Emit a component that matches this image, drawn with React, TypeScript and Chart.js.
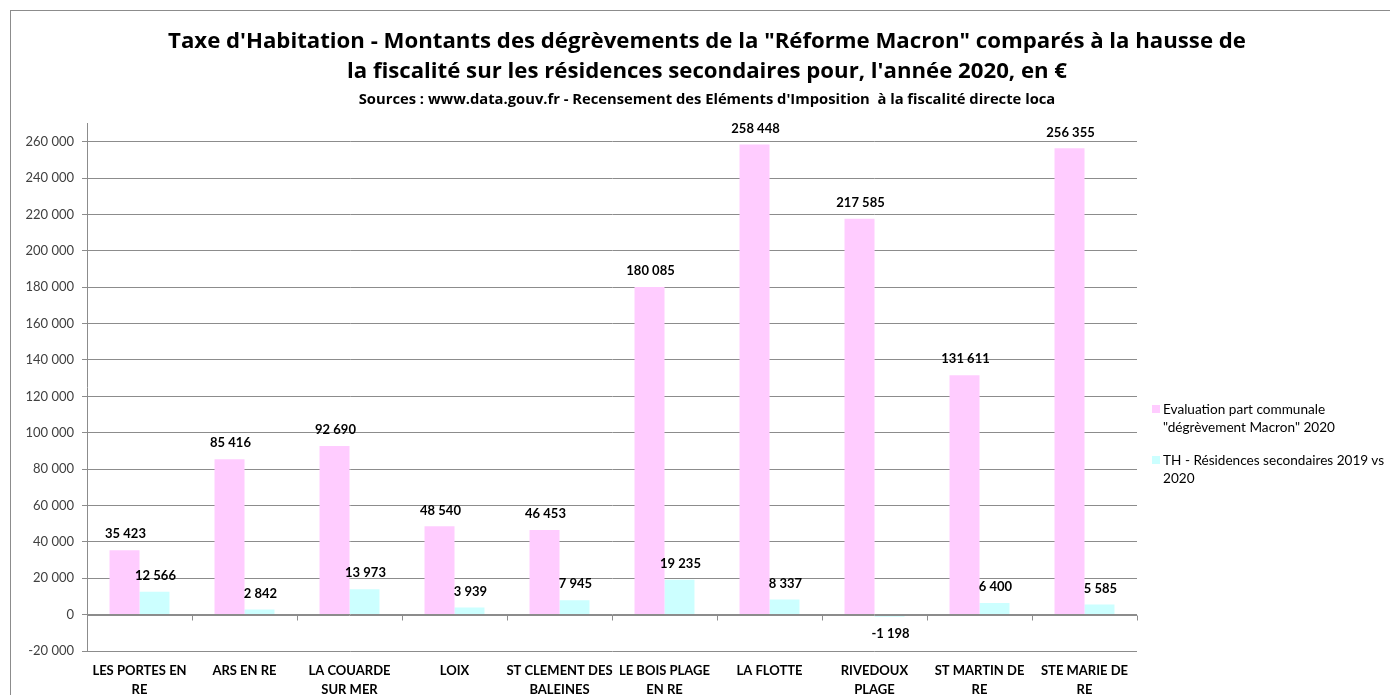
import React, { useEffect, useRef } from "react";
import { Chart, registerables } from "chart.js";

Chart.register(...registerables);

const FONT = "Lato, 'Noto Sans', sans-serif";
const TITLE_FONT = "'Open Sans', 'Noto Sans', sans-serif";

const titleLines = [
  "Taxe d'Habitation - Montants des dégrèvements de la \"Réforme Macron\" comparés à la hausse de",
  "la fiscalité sur les résidences secondaires pour, l'année 2020, en €",
];
const subtitleText =
  "Sources : www.data.gouv.fr - Recensement des Eléments d'Imposition  à la fiscalité directe loca";

const categories: string[][] = [
  ["LES PORTES EN", "RE"],
  ["ARS EN RE"],
  ["LA COUARDE", "SUR MER"],
  ["LOIX"],
  ["ST CLEMENT DES", "BALEINES"],
  ["LE BOIS PLAGE", "EN RE"],
  ["LA FLOTTE"],
  ["RIVEDOUX", "PLAGE"],
  ["ST MARTIN DE", "RE"],
  ["STE MARIE DE", "RE"],
];

const degrevementMacron = [35423, 85416, 92690, 48540, 46453, 180085, 258448, 217585, 131611, 256355];
const residencesSecondaires = [12566, 2842, 13973, 3939, 7945, 19235, 8337, -1198, 6400, 5585];

const yTickValues = [
  -20000, 0, 20000, 40000, 60000, 80000, 100000, 120000, 140000, 160000, 180000, 200000, 220000,
  240000, 260000,
];

const legendLabels: string[][] = [
  ["Evaluation part communale", "\"dégrèvement Macron\" 2020"],
  ["TH - Résidences secondaires 2019 vs", "2020"],
];

const seriesColors = ["#FFCCFF", "#CCFFFF"];
const gridColor = "#8c8c8c";

function fmt(v: number): string {
  const s = Math.abs(Math.round(v))
    .toString()
    .replace(/\B(?=(\d{3})+(?!\d))/g, " ");
  return (v < 0 ? "-" : "") + s;
}

const zeroAxisPlugin = {
  id: "zeroAxis",
  afterDatasetsDraw(chart: any) {
    const { ctx, chartArea, scales } = chart;
    const x = scales.x;
    const y = scales.y;
    const y0 = Math.round(y.getPixelForValue(0)) + 0.5;
    ctx.save();
    ctx.strokeStyle = gridColor;
    ctx.lineWidth = 1;
    ctx.beginPath();
    ctx.moveTo(chartArea.left, y0);
    ctx.lineTo(chartArea.right, y0);
    const n = categories.length;
    const w = (chartArea.right - chartArea.left) / n;
    for (let i = 0; i <= n; i++) {
      const px = Math.round(x.getPixelForValue(0) - w / 2 + i * w) + 0.5;
      ctx.moveTo(px, y0);
      ctx.lineTo(px, y0 + 5);
    }
    ctx.stroke();
    ctx.restore();
  },
};

const dataLabelPlugin = {
  id: "dataLabels",
  afterDatasetsDraw(chart: any) {
    const { ctx } = chart;
    ctx.save();
    ctx.font = `bold 13px ${FONT}`;
    ctx.fillStyle = "#000";
    ctx.textAlign = "center";
    ctx.textBaseline = "middle";
    chart.data.datasets.forEach((ds: any, di: number) => {
      const meta = chart.getDatasetMeta(di);
      meta.data.forEach((bar: any, i: number) => {
        const v = ds.data[i];
        const ly = v >= 0 ? bar.y - 16 : bar.y + 17;
        ctx.fillText(fmt(v), bar.x + 1, ly);
      });
    });
    ctx.restore();
  },
};

export default function App() {
  const ref = useRef<HTMLCanvasElement | null>(null);

  useEffect(() => {
    if (!ref.current) return;
    document.body.style.overflow = "hidden";
    const chart = new Chart(ref.current, {
      type: "bar",
      data: {
        labels: categories,
        datasets: [
          {
            label: legendLabels[0].join(" "),
            data: degrevementMacron,
            backgroundColor: seriesColors[0],
            categoryPercentage: 0.571,
            barPercentage: 1,
            yAxisID: "y",
          },
          {
            label: legendLabels[1].join(" "),
            data: residencesSecondaires,
            backgroundColor: seriesColors[1],
            categoryPercentage: 0.571,
            barPercentage: 1,
            yAxisID: "y",
          },
        ],
      },
      options: {
        responsive: false,
        animation: false,
        devicePixelRatio: 1,
        layout: { padding: 0 },
        plugins: {
          legend: { display: false },
          tooltip: { enabled: false },
          title: {
            display: true,
            text: titleLines,
            color: "#000",
            font: { family: TITLE_FONT, size: 22.2, weight: "bold", lineHeight: 30 / 22.2 },
            padding: { top: 16, bottom: 3.6 },
          },
          subtitle: {
            display: true,
            text: subtitleText,
            color: "#000",
            font: { family: TITLE_FONT, size: 14.75, weight: "bold", lineHeight: 1.2 },
            padding: { top: 0, bottom: 15.2 },
          },
        },
        scales: {
          x: {
            grid: { display: false },
            border: { display: false },
            ticks: {
              color: "#000",
              font: { family: FONT, size: 13, weight: "bold", lineHeight: 19 / 13 },
              padding: 2,
              maxRotation: 0,
              autoSkip: false,
            },
          },
          y: {
            min: -20000,
            max: 270000,
            afterBuildTicks: (scale: any) => {
              scale.ticks = yTickValues.map((v) => ({ value: v }));
            },
            afterFit: (scale: any) => {
              scale.width = 76;
            },
            grid: { color: gridColor, tickLength: 5, drawTicks: true },
            border: { display: true, color: gridColor },
            ticks: {
              color: "#404040",
              font: { family: FONT, size: 13 },
              padding: 8,
              callback: (v: any) => fmt(Number(v)),
            },
          },
          legendSpace: {
            type: "linear",
            position: "right",
            display: true,
            grid: { display: false },
            border: { display: false },
            ticks: { display: false },
            afterFit: (scale: any) => {
              scale.width = 266;
            },
          },
        },
      },
      plugins: [zeroAxisPlugin, dataLabelPlugin],
    });
    return () => chart.destroy();
  }, []);

  return (
    <div
      style={{
        position: "fixed",
        left: 10,
        top: 10,
        width: 1380,
        height: 685,
        borderLeft: "1px solid #8c8c8c",
        borderTop: "1px solid #8c8c8c",
        overflow: "hidden",
        background: "#fff",
      }}
    >
      <canvas
        ref={ref}
        width={1392}
        height={690}
        style={{ position: "absolute", left: 0, top: 0, width: 1392, height: 690 }}
      />
      <div
        style={{
          position: "absolute",
          left: 1141,
          top: 389,
          fontFamily: FONT,
          fontSize: 13.6,
          lineHeight: "18px",
          color: "#000",
          whiteSpace: "nowrap",
        }}
      >
        {legendLabels.map((lines, i) => (
          <div key={i} style={{ position: "relative", paddingLeft: 11, marginBottom: i === 0 ? 15 : 0 }}>
            <span
              style={{
                position: "absolute",
                left: 0,
                top: 5,
                width: 8,
                height: 8,
                background: seriesColors[i],
              }}
            />
            {lines.map((l, j) => (
              <div key={j}>{l}</div>
            ))}
          </div>
        ))}
      </div>
    </div>
  );
}
